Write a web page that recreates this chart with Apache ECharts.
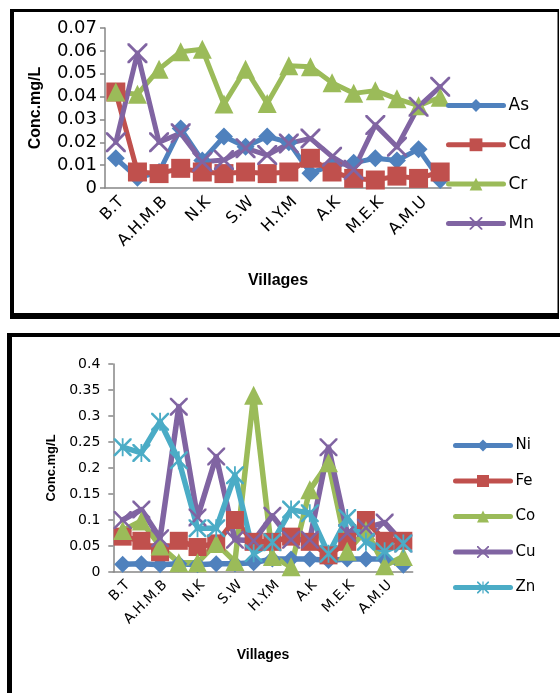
<!DOCTYPE html>
<html><head><meta charset="utf-8">
<script src="https://cdn.jsdelivr.net/npm/echarts@6/dist/echarts.min.js"></script>
<style>html,body{margin:0;padding:0;background:#fff}#c{width:560px;height:693px}</style>
</head><body><div id="c"></div>
<script>
// Categories (labels shown every other category, as in the reference)
const villages = ['B.T','','A.H.M.B','','N.K','','S.W','','H.Y.M','','A.K','','M.E.K','','A.M.U',''];

// Top chart series (mg/L)
const As = [0.013, 0.0045, 0.007, 0.026, 0.012, 0.0225, 0.018, 0.0225, 0.020, 0.0065, 0.010, 0.011, 0.013, 0.012, 0.017, 0.0035];
const Cd = [0.042, 0.007, 0.0063, 0.0086, 0.007, 0.0063, 0.007, 0.0063, 0.007, 0.013, 0.007, 0.0042, 0.0035, 0.0052, 0.0042, 0.007];
const Cr = [0.042, 0.041, 0.052, 0.0596, 0.0607, 0.0367, 0.052, 0.037, 0.0535, 0.053, 0.046, 0.0414, 0.0426, 0.039, 0.036, 0.0397];
const Mn = [0.020, 0.059, 0.020, 0.024, 0.0115, 0.0122, 0.0174, 0.0144, 0.0195, 0.0217, 0.0137, 0.008, 0.0276, 0.018, 0.0356, 0.0443];

// Bottom chart series (mg/L)
const Ni = [0.015, 0.016, 0.014, 0.016, 0.014, 0.016, 0.016, 0.018, 0.025, 0.025, 0.025, 0.022, 0.025, 0.025, 0.025, 0.013];
const Fe = [0.068, 0.06, 0.038, 0.06, 0.048, 0.055, 0.1, 0.058, 0.058, 0.068, 0.058, 0.032, 0.058, 0.1, 0.06, 0.06];
const Co = [0.08, 0.098, 0.05, 0.018, 0.018, 0.055, 0.02, 0.34, 0.03, 0.01, 0.158, 0.21, 0.04, 0.08, 0.012, 0.03];
const Cu = [0.1, 0.12, 0.065, 0.318, 0.105, 0.222, 0.062, 0.06, 0.108, 0.062, 0.062, 0.24, 0.075, 0.085, 0.095, 0.055];
const Zn = [0.24, 0.229, 0.289, 0.215, 0.084, 0.084, 0.186, 0.036, 0.057, 0.12, 0.113, 0.035, 0.104, 0.058, 0.04, 0.055];

const topTicks = {min: 0, max: 0.07, interval: 0.01};
const botTicks = {min: 0, max: 0.4, interval: 0.05};

const C = {blue:'#4F81BD', red:'#C0504D', green:'#9BBB59', purple:'#8064A2', aqua:'#4BACC6'};
const X_PATH = 'path://M0,0L2,0L10,8L18,0L20,0L20,2L12,10L20,18L20,20L18,20L10,12L2,20L0,20L0,18L8,10L0,2Z';
const STAR_PATH = 'path://M0,0L2,0L10,8L18,0L20,0L20,2L12,10L20,18L20,20L18,20L10,12L2,20L0,20L0,18L8,10L0,2Z M9,0L11,0L11,20L9,20Z';

function mk(name, data, color, symbol, size, idx, w) {
  return {
    name, type: 'line', xAxisIndex: idx, yAxisIndex: idx, data,
    symbol, symbolSize: size, showAllSymbol: true,
    lineStyle: {width: w, color, join: 'round', cap: 'round'},
    itemStyle: {color},
    emphasis: {disabled: true}, animation: false
  };
}

const axisGray = '#868686';
function xAx(idx, fs, gap, nfs) {
  return {
    type: 'category', gridIndex: idx, data: villages, boundaryGap: true,
    axisLine: {lineStyle: {color: axisGray, width: 1.5}},
    axisTick: {interval: 0, length: 6, lineStyle: {color: axisGray, width: 1.5}},
    axisLabel: {interval: 1, rotate: 45, fontSize: fs, color: '#000', fontFamily: 'DejaVu Sans', margin: 6, verticalAlign: 'top'},
    name: 'Villages', nameLocation: 'middle', nameGap: gap,
    nameTextStyle: {fontWeight: 'bold', fontSize: nfs, fontFamily: 'Liberation Sans', color: '#000'}
  };
}
function yAx(idx, t, fs, margin, gap, nfs) {
  return {
    type: 'value', gridIndex: idx, min: t.min, max: t.max, interval: t.interval,
    axisLine: {show: true, lineStyle: {color: axisGray, width: 1.5}},
    axisTick: {show: true, length: 5, lineStyle: {color: axisGray, width: 1.5}},
    splitLine: {show: false},
    axisLabel: {fontSize: fs, color: '#000', fontFamily: 'DejaVu Sans', margin},
    name: 'Conc.mg/L', nameLocation: 'middle', nameRotate: 90, nameGap: gap,
    nameTextStyle: {fontWeight: 'bold', fontSize: nfs, fontFamily: 'Liberation Sans', color: '#000'}
  };
}

const chart = echarts.init(document.getElementById('c'), null, {renderer: 'canvas'});
chart.setOption({
  backgroundColor: '#fff',
  animation: false,
  graphic: [
    {type: 'rect', shape: {x: 10, y: 9, width: 549, height: 3}, style: {fill: '#000'}, z: 100},
    {type: 'rect', shape: {x: 10, y: 9, width: 4, height: 310}, style: {fill: '#000'}, z: 100},
    {type: 'rect', shape: {x: 10, y: 313, width: 549, height: 6}, style: {fill: '#000'}, z: 100},
    {type: 'rect', shape: {x: 557.5, y: 9, width: 1.5, height: 310}, style: {fill: '#000'}, z: 100},
    {type: 'rect', shape: {x: 7, y: 333, width: 553, height: 4}, style: {fill: '#000'}, z: 100},
    {type: 'rect', shape: {x: 7, y: 333, width: 5, height: 360}, style: {fill: '#000'}, z: 100}
  ],
  grid: [
    {left: 105, top: 28, width: 346, height: 160},
    {left: 113.3, top: 364, width: 299.4, height: 208}
  ],
  xAxis: [xAx(0, 16, 85, 16), xAx(1, 14, 76, 14)],
  yAxis: [yAx(0, topTicks, 18, 8, 61, 16), yAx(1, botTicks, 14, 13, 55, 13)],
  legend: [
    {data: ['As','Cd','Cr','Mn'], orient: 'vertical', left: 446, top: 97, padding: 0,
     itemWidth: 55, itemHeight: 16, itemGap: 22.3,
     lineStyle: {width: 5, cap: 'round'},
     textStyle: {fontSize: 17, fontFamily: 'DejaVu Sans', color: '#000', lineHeight: 16}},
    {data: ['Ni','Fe','Co','Cu','Zn'], orient: 'vertical', left: 453, top: 438, padding: 0,
     itemWidth: 55, itemHeight: 15, itemGap: 20.5,
     lineStyle: {width: 5, cap: 'round'},
     textStyle: {fontSize: 15, fontFamily: 'DejaVu Sans', color: '#000', lineHeight: 15}}
  ],
  series: [
    mk('As', As, C.blue, 'diamond', 18, 0, 5),
    mk('Cd', Cd, C.red, 'rect', 19, 0, 5),
    mk('Cr', Cr, C.green, 'triangle', 19, 0, 5),
    mk('Mn', Mn, C.purple, X_PATH, 20, 0, 5),
    mk('Ni', Ni, C.blue, 'diamond', 17, 1, 5.5),
    mk('Fe', Fe, C.red, 'rect', 18, 1, 5.5),
    mk('Co', Co, C.green, 'triangle', 19, 1, 5.5),
    mk('Cu', Cu, C.purple, X_PATH, 18, 1, 5.5),
    mk('Zn', Zn, C.aqua, STAR_PATH, 18, 1, 5.5)
  ]
});
</script></body></html>
